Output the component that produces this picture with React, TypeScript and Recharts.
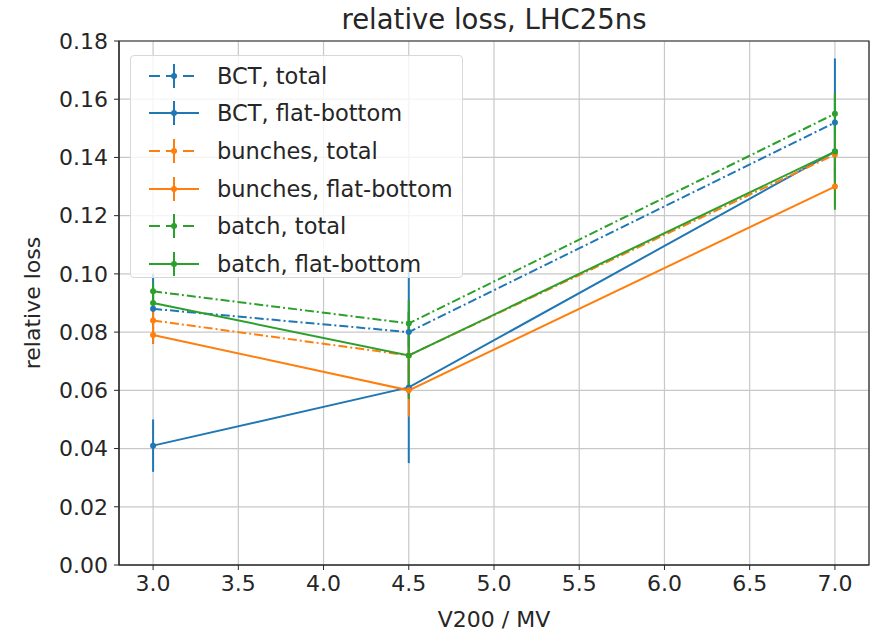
import { ComposedChart, Line, XAxis, YAxis, CartesianGrid, ErrorBar, ReferenceArea, Label } from "recharts"

// RF voltage points (MV)
const voltages = [3.0, 4.5, 7.0]

const bctTotal = [0.088, 0.08, 0.152]
const bctTotalErr = [0.012, 0.022, 0.022]
const bctFlat = [0.041, 0.061, 0.142]
const bctFlatErr = [0.009, 0.026, 0.01]
const bunchesTotal = [0.084, 0.072, 0.141]
const bunchesTotalErr = [0.004, 0.006, 0.006]
const bunchesFlat = [0.079, 0.06, 0.13]
const bunchesFlatErr = [0.003, 0.009, 0.007]
const batchTotal = [0.094, 0.083, 0.155]
const batchTotalErr = [0.003, 0.008, 0.007]
const batchFlat = [0.09, 0.072, 0.142]
const batchFlatErr = [0.003, 0.015, 0.02]

const xTicks = [3.0, 3.5, 4.0, 4.5, 5.0, 5.5, 6.0, 6.5, 7.0]
const yTicks = [0, 0.02, 0.04, 0.06, 0.08, 0.1, 0.12, 0.14, 0.16, 0.18]

const BLUE = "#1f77b4"
const ORANGE = "#ff7f0e"
const GREEN = "#2ca02c"
const DASHDOT = "9 3 2 3"

const series = [
  { key: "bctTotal", name: "BCT, total", color: BLUE, dashed: true, values: bctTotal, errors: bctTotalErr },
  { key: "bctFlat", name: "BCT, flat-bottom", color: BLUE, dashed: false, values: bctFlat, errors: bctFlatErr },
  { key: "bunchesTotal", name: "bunches, total", color: ORANGE, dashed: true, values: bunchesTotal, errors: bunchesTotalErr },
  { key: "bunchesFlat", name: "bunches, flat-bottom", color: ORANGE, dashed: false, values: bunchesFlat, errors: bunchesFlatErr },
  { key: "batchTotal", name: "batch, total", color: GREEN, dashed: true, values: batchTotal, errors: batchTotalErr },
  { key: "batchFlat", name: "batch, flat-bottom", color: GREEN, dashed: false, values: batchFlat, errors: batchFlatErr },
]

const data = voltages.map((v, i) => {
  const row: Record<string, number> = { v }
  series.forEach((s) => {
    row[s.key] = s.values[i]
    row[s.key + "Err"] = s.errors[i]
  })
  return row
})

const FONT = "'DejaVu Sans', sans-serif"
const TEXT = "#262626"

// legend overlay, top-left inside the axes
const LegendBox = () => (
  <div
    style={{
      position: "absolute",
      left: 130,
      top: 55,
      width: 333,
      height: 223,
      border: "1px solid #d8d8d8",
      borderRadius: 4,
      background: "rgba(255,255,255,0.8)",
      boxSizing: "border-box",
      paddingTop: 1,
      fontFamily: FONT,
      fontSize: 22.5,
      color: TEXT,
    }}
  >
    {series.map((s) => (
      <div key={s.key} style={{ display: "flex", alignItems: "center", height: 37.6 }}>
        <svg width={54} height={30} style={{ marginLeft: 16, marginRight: 16 }}>
          <line x1={2} y1={15} x2={52} y2={15} stroke={s.color} strokeWidth={2} strokeDasharray={s.dashed ? "11 6" : undefined} />
          <line x1={27} y1={3} x2={27} y2={27} stroke={s.color} strokeWidth={2} />
          <circle cx={27} cy={15} r={3} fill={s.color} />
        </svg>
        <span>{s.name}</span>
      </div>
    ))}
  </div>
)

export default function App() {
  return (
    <div style={{ position: "absolute", left: 0, top: 0, width: 871, height: 635, background: "#fff" }}>
      <div
        style={{
          position: "absolute",
          top: 3,
          left: 119,
          width: 750,
          textAlign: "center",
          fontFamily: FONT,
          fontSize: 27.5,
          color: TEXT,
        }}
      >
        relative loss, LHC25ns
      </div>
      <ComposedChart width={871} height={635} data={data} margin={{ top: 41, right: 2, left: 0, bottom: 0 }}>
        <CartesianGrid stroke="#c8c8c8" strokeWidth={1.2} />
        <XAxis
          dataKey="v"
          type="number"
          domain={[2.8, 7.2]}
          ticks={xTicks}
          allowDataOverflow
          tickFormatter={(t: number) => t.toFixed(1)}
          tick={{ fontFamily: FONT, fontSize: 22, fill: TEXT }}
          tickLine={{ stroke: TEXT }}
          axisLine={{ stroke: TEXT }}
          tickSize={5}
          tickMargin={5}
          height={70}
        >
          <Label value="V200 / MV" position="insideBottom" offset={8} style={{ fontFamily: FONT, fontSize: 22, fill: TEXT }} />
        </XAxis>
        <YAxis
          type="number"
          domain={[0, 0.18]}
          ticks={yTicks}
          allowDataOverflow
          tickFormatter={(t: number) => t.toFixed(2)}
          tick={{ fontFamily: FONT, fontSize: 22, fill: TEXT }}
          tickLine={{ stroke: TEXT }}
          axisLine={{ stroke: TEXT }}
          tickSize={5}
          tickMargin={6}
          width={119}
        >
          <Label
            value="relative loss"
            angle={-90}
            position="insideLeft"
            offset={32}
            style={{ fontFamily: FONT, fontSize: 22, fill: TEXT, textAnchor: "middle" }}
          />
        </YAxis>
        {series.map((s) => (
          <Line
            key={s.key}
            dataKey={s.key}
            name={s.name}
            type="linear"
            stroke={s.color}
            strokeWidth={2}
            strokeDasharray={s.dashed ? DASHDOT : undefined}
            dot={{ r: 3, fill: s.color, stroke: s.color, strokeWidth: 0 }}
            activeDot={false}
            isAnimationActive={false}
          >
            <ErrorBar dataKey={s.key + "Err"} width={0} stroke={s.color} strokeWidth={2} direction="y" />
          </Line>
        ))}
        <ReferenceArea x1={2.8} x2={7.2} y1={0} y2={0.18} fill="none" stroke={TEXT} strokeWidth={1.2} ifOverflow="visible" />
      </ComposedChart>
      <LegendBox />
    </div>
  )
}
